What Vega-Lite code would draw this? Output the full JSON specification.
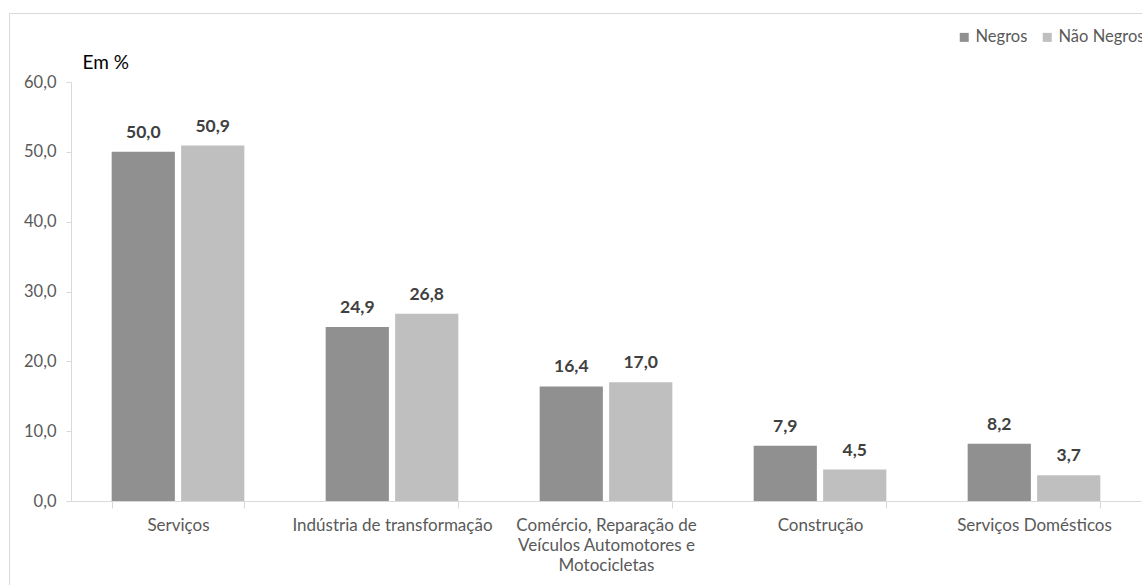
{
  "$schema": "https://vega.github.io/schema/vega-lite/v6.json",
  "width": 1133,
  "height": 572,
  "autosize": {"type": "none"},
  "padding": {"left": 9, "top": 13, "right": 0, "bottom": 0},
  "background": "white",
  "config": {
    "font": "Lato",
    "locale": {"number": {"decimal": ",", "thousands": ".", "grouping": [3], "currency": ["R$", ""]}},
    "view": {"stroke": "#d9d9d9", "strokeWidth": 1}
  },
  "data": {
    "values": [
      {"setor": "Serviços", "grupo": "Negros", "valor": 50.0},
      {"setor": "Serviços", "grupo": "Não Negros", "valor": 50.9},
      {"setor": "Indústria de transformação", "grupo": "Negros", "valor": 24.9},
      {"setor": "Indústria de transformação", "grupo": "Não Negros", "valor": 26.8},
      {"setor": "Comércio, Reparação de Veículos Automotores e Motocicletas", "grupo": "Negros", "valor": 16.4},
      {"setor": "Comércio, Reparação de Veículos Automotores e Motocicletas", "grupo": "Não Negros", "valor": 17.0},
      {"setor": "Construção", "grupo": "Negros", "valor": 7.9},
      {"setor": "Construção", "grupo": "Não Negros", "valor": 4.5},
      {"setor": "Serviços Domésticos", "grupo": "Negros", "valor": 8.2},
      {"setor": "Serviços Domésticos", "grupo": "Não Negros", "valor": 3.7}
    ]
  },
  "encoding": {
    "x": {
      "field": "setor",
      "type": "nominal",
      "sort": null,
      "scale": {"range": [62, 1132], "paddingInner": 0.38, "paddingOuter": 0.19},
      "axis": {
        "title": null,
        "orient": "bottom",
        "offset": -84,
        "labelAngle": 0,
        "labelFont": "Lato",
        "labelFontSize": 17,
        "labelColor": "#595959",
        "labelPadding": 9,
        "labelLineHeight": 20,
        "labelLimit": 300,
        "labelExpr": "datum.value == 'Comércio, Reparação de Veículos Automotores e Motocicletas' ? ['Comércio, Reparação de', 'Veículos Automotores e', 'Motocicletas'] : datum.value",
        "domainColor": "#d9d9d9",
        "tickColor": "#d9d9d9",
        "tickSize": 7,
        "tickBand": "extent",
        "grid": false
      }
    },
    "xOffset": {
      "field": "grupo",
      "type": "nominal",
      "sort": ["Negros", "Não Negros"],
      "scale": {"paddingInner": 0.09, "paddingOuter": 0}
    },
    "y": {
      "field": "valor",
      "type": "quantitative",
      "scale": {"domain": [0, 60], "range": [488, 69], "nice": false},
      "axis": {
        "offset": -62,
        "values": [0, 10, 20, 30, 40, 50, 60],
        "format": ".1f",
        "grid": false,
        "labelFont": "Lato",
        "labelFontSize": 16.5,
        "labelColor": "#595959",
        "labelPadding": 10,
        "domainColor": "#d9d9d9",
        "tickColor": "#d9d9d9",
        "tickSize": 5,
        "title": "Em %",
        "titleAngle": 0,
        "titleAlign": "left",
        "titleBaseline": "alphabetic",
        "titleX": 11,
        "titleY": 55,
        "titleFont": "Lato",
        "titleFontSize": 19,
        "titleFontWeight": "normal",
        "titleColor": "#000000"
      }
    }
  },
  "layer": [
    {
      "mark": {"type": "bar"},
      "encoding": {
        "color": {
          "field": "grupo",
          "type": "nominal",
          "sort": ["Negros", "Não Negros"],
          "scale": {"domain": ["Negros", "Não Negros"], "range": ["#909090", "#bfbfbf"]},
          "legend": {
            "title": null,
            "orient": "none",
            "direction": "horizontal",
            "legendX": 947,
            "legendY": 16,
            "symbolType": "square",
            "symbolSize": 81,
            "symbolStrokeWidth": 0,
            "labelFont": "Lato",
            "labelFontSize": 16.5,
            "labelColor": "#595959",
            "labelOffset": 3,
            "columnPadding": 11
          }
        }
      }
    },
    {
      "mark": {"type": "text", "baseline": "alphabetic", "dy": -14, "font": "Lato", "fontSize": 17.5, "fontWeight": "bold", "color": "#404040"},
      "encoding": {
        "text": {"field": "valor", "type": "quantitative", "format": ".1f"}
      }
    }
  ]
}
